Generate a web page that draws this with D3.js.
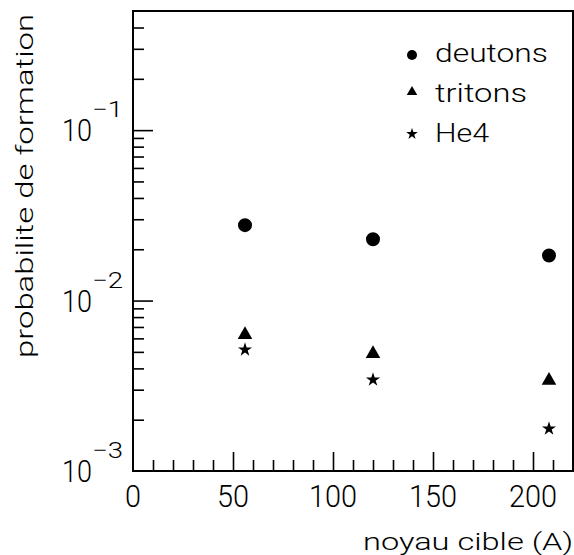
<!DOCTYPE html>
<html><head><meta charset="utf-8">
<script src="https://cdn.jsdelivr.net/npm/d3@7"></script>
<style>
html,body{margin:0;padding:0;background:#fff;}
svg{display:block;}
text{font-family:Roboto,"Liberation Sans",sans-serif;font-weight:300;fill:#000;}
</style></head>
<body>
<svg id="c" width="574" height="555"></svg>
<script>
// ---- data ----
const nuclei = [56, 120, 208];
const deutons = [0.0277, 0.0229, 0.0184];
const tritons = [0.0063, 0.00488, 0.0034];
const he4 = [0.00515, 0.00343, 0.00177];
const seriesNames = ["deutons", "tritons", "He4"];
const xMajorTicks = [0, 50, 100, 150, 200];
const yDecades = [-3, -2, -1];
const xTitle = "noyau cible (A)";
const yTitle = "probabilite de formation";

const svg = d3.select("#c");
const L = 133, R = 573, T = 11, B = 471;
const x = d3.scaleLinear().domain([0, 220]).range([L, R]);
const y = d3.scaleLog().domain([1e-3, 0.5]).range([B, T]);

// frame
svg.append("rect").attr("x", L).attr("y", T).attr("width", R - L).attr("height", B - T)
  .attr("fill", "none").attr("stroke", "#000").attr("stroke-width", 2);

// x axis ticks
const xMinor = d3.range(10, 220, 10).filter(v => v % 50 !== 0);
const gxm = svg.append("g").attr("transform", `translate(0,${B})`)
  .call(d3.axisBottom(x).tickValues(xMinor).tickSize(-11).tickFormat(""));
const gxM = svg.append("g").attr("transform", `translate(0,${B})`)
  .call(d3.axisBottom(x).tickValues(xMajorTicks.filter(v => v > 0)).tickSize(-19).tickFormat(""));
[gxm, gxM].forEach(g => { g.select(".domain").remove(); g.selectAll("line").attr("stroke-width", 1.6); });

// x labels
svg.append("g").selectAll("text").data(xMajorTicks).join("text")
  .attr("x", d => x(d)).attr("y", 507).attr("text-anchor", "middle")
  .attr("font-size", 31)
  .attr("textLength", d => String(d).length * 16)
  .attr("lengthAdjust", "spacingAndGlyphs")
  .text(d => d);

// y axis ticks
const yMinor = [];
yDecades.forEach(e => { for (let k = 2; k <= 9; k++) { const v = k * Math.pow(10, e); if (v < 0.5) yMinor.push(v); } });
const yMajor = yDecades.map(e => Math.pow(10, e)).filter(v => v > 1e-3);
const gym = svg.append("g").attr("transform", `translate(${L},0)`)
  .call(d3.axisLeft(y).tickValues(yMinor).tickSize(-11).tickFormat(""));
const gyM = svg.append("g").attr("transform", `translate(${L},0)`)
  .call(d3.axisLeft(y).tickValues(yMajor).tickSize(-20).tickFormat(""));
[gym, gyM].forEach(g => { g.select(".domain").remove(); g.selectAll("line").attr("stroke-width", 1.6); });

// y labels 10^e
const yl = svg.append("g").selectAll("g").data(yDecades).join("g");
yl.append("text").attr("x", 62).attr("y", d => y(Math.pow(10, d)) + 11)
  .attr("font-size", 31).attr("textLength", 30).attr("lengthAdjust", "spacingAndGlyphs").text("10");
yl.append("text").attr("x", 92).attr("y", d => y(Math.pow(10, d)) - 13)
  .attr("font-size", 22).attr("textLength", 31).attr("lengthAdjust", "spacingAndGlyphs")
  .text(d => "\u2212" + Math.abs(d));

// axis titles
svg.append("text").attr("x", 573).attr("y", 550).attr("text-anchor", "end")
  .attr("font-size", 24).attr("textLength", 210).attr("lengthAdjust", "spacingAndGlyphs").text(xTitle);
svg.append("text").attr("transform", "translate(33,14) rotate(-90)").attr("text-anchor", "end")
  .attr("font-size", 24).attr("textLength", 344).attr("lengthAdjust", "spacingAndGlyphs").text(yTitle);

// points
const shapes = [d3.symbolCircle, d3.symbolTriangle, d3.symbolStar];
const sizes = [154, 92, 62];
const allSeries = [deutons, tritons, he4];
allSeries.forEach((vals, i) => {
  svg.append("g").selectAll("path").data(vals).join("path")
    .attr("d", d3.symbol().type(shapes[i]).size(sizes[i]))
    .attr("transform", (d, j) => `translate(${x(nuclei[j])},${y(d)})`)
    .attr("fill", "#000");
});

// legend
const legY = [55, 92, 134];
const legBase = [62, 102, 142];
const legW = [113, 92, 54];
const legSizes = [79, 48, 42];
seriesNames.forEach((n, i) => {
  svg.append("path").attr("d", d3.symbol().type(shapes[i]).size(legSizes[i]))
    .attr("transform", `translate(412,${legY[i]})`).attr("fill", "#000");
  svg.append("text").attr("x", 435).attr("y", legBase[i]).attr("font-size", 25)
    .attr("textLength", legW[i]).attr("lengthAdjust", "spacingAndGlyphs").text(n);
});
</script>
</body></html>
